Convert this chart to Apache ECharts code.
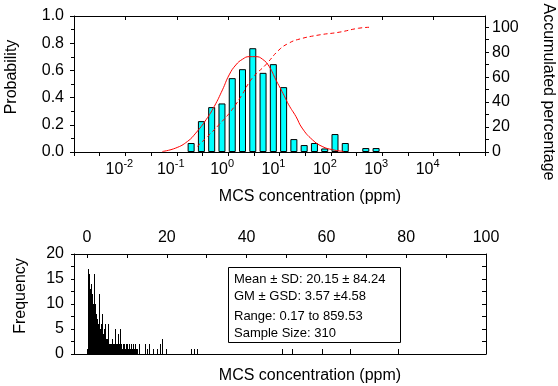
<!DOCTYPE html>
<html>
<head>
<meta charset="utf-8">
<script src="https://cdn.jsdelivr.net/npm/echarts@6/dist/echarts.min.js"></script>
<style>
html,body{margin:0;padding:0;background:#fff;}
#c{width:558px;height:386px;}
</style>
</head>
<body>
<div id="c"></div>
<script>
// ---- Top chart: log-scale probability histogram ----
var binCentersLog = [-0.72,-0.52,-0.32,-0.12,0.08,0.28,0.48,0.68,0.88,1.08,1.28,1.48,1.68,1.88,2.08,2.28,2.68,2.88];
var probabilities = [0.066,0.227,0.330,0.357,0.543,0.609,0.763,0.582,0.646,0.477,0.095,0.051,0.066,0.026,0.132,0.066,0.029,0.029];
// fitted lognormal curve
var fitLogX = [-1.28,-1.02,-0.79,-0.63,-0.43,-0.27,-0.11,0.02,0.15,0.28,0.41,0.54,0.67,0.80,0.93,1.05,1.18,1.32,1.44,1.64,1.83,2.03,2.25];
var fitProb = [0.004,0.029,0.078,0.139,0.237,0.335,0.457,0.567,0.640,0.682,0.701,0.701,0.682,0.628,0.530,0.445,0.347,0.261,0.176,0.090,0.041,0.017,0.004];
// accumulated percentage
var cumLogX = [-0.60,-0.40,-0.18,0.05,0.25,0.47,0.73,0.99,1.18,1.38,1.77,2.16,2.54,2.77];
var cumPct = [4.5,12.5,21.8,32.5,44.5,59.2,69.8,81.8,87.2,90.4,93.8,96.0,99.2,100];
var decadeLabels = [-2,-1,0,1,2,3,4];
var rightTickLabels = [0,20,40,60,80,100];

// ---- Bottom chart: linear frequency histogram ----
var concValues = [0.0,0.25,0.5,0.75,1.0,1.25,1.5,1.75,2.0,2.25,2.5,2.75,3.0,3.25,3.5,3.75,4.0,4.25,4.5,4.75,5.0,5.25,5.5,5.75,6.0,6.25,6.5,6.75,7.0,7.25,7.5,7.75,8.0,8.25,8.5,8.75,9.0,9.25,9.5,9.75,10,10.25,10.5,10.75,11,11.25,11.5,11.75,12,12.25,12.5,13,14.5,15,15.5,16.5,17.5,18.25,18.75,19.75,26,26.75,27.5,49,51.5,59,66,78];
var frequencies = [1,17,16,13,14,12,10,16,10,8,7,6,12,5,6,8,4,5,6,3,3,6,2,2,2,3,2,2,5,2,2,4,2,5,2,1,2,2,1,2,2,1,2,1,2,1,2,1,2,1,1,2,2,1,2,1,1,2,3,1,1,1,1,1,1,1,1,1];
var topTickLabels = [0,20,40,60,80,100];

var statLines = ['Mean \u00B1 SD: 20.15 \u00B1 84.24','GM \u00B1 GSD: 3.57 \u00B14.58','Range: 0.17 to 859.53','Sample Size: 310'];

var FONT = 'Liberation Sans, Arial, sans-serif';
var black = '#000';
var chart = echarts.init(document.getElementById('c'));

function axisBase(extra){
  var o = {
    axisLine:{show:true,onZero:false,lineStyle:{color:black,width:1}},
    splitLine:{show:false},
    axisLabel:{color:black,fontFamily:FONT,fontSize:16},
    axisTick:{lineStyle:{color:black}}
  };
  for (var k in extra){
    if (typeof extra[k]==='object' && o[k] && !Array.isArray(extra[k])) { for (var j in extra[k]) o[k][j]=extra[k][j]; }
    else o[k]=extra[k];
  }
  return o;
}

var option = {
  animation:false,
  backgroundColor:'#fff',
  grid:[
    {left:74,right:73,top:16,bottom:234},
    {left:74,right:72,top:254,bottom:32}
  ],
  xAxis:[
    axisBase({gridIndex:0,type:'value',position:'bottom',min:-3,max:5,interval:0.5,
      axisTick:{show:true,inside:false,length:4},
      axisLabel:{customValues:decadeLabels,margin:6,
        formatter:function(v){return '{b|10}{e|'+Math.round(v)+'}';},
        rich:{b:{fontSize:16,fontFamily:FONT,color:black,lineHeight:24},
              e:{fontSize:11,fontFamily:FONT,color:black,verticalAlign:'top',padding:[0,12,0,0]}}}}),
    axisBase({gridIndex:0,type:'value',position:'top',min:-3,max:5,interval:1,
      axisTick:{show:true,inside:true,length:4},axisLabel:{show:false}}),
    axisBase({gridIndex:1,type:'value',position:'top',min:-3.25,max:100,
      axisTick:{show:true,inside:true,length:4,customValues:[0,10,20,30,40,50,60,70,80,90,100]},
      axisLabel:{customValues:topTickLabels,margin:8}}),
    axisBase({gridIndex:1,type:'value',position:'bottom',min:-3.25,max:100,
      axisTick:{show:false},axisLabel:{show:false}})
  ],
  yAxis:[
    axisBase({gridIndex:0,type:'value',position:'left',min:0,max:1,interval:0.2,
      axisTick:{show:true,inside:false,length:4},
      minorTick:{show:true,splitNumber:2,length:3,lineStyle:{color:black}},
      axisLabel:{margin:10,formatter:function(v){return v.toFixed(1);}}}),
    axisBase({gridIndex:0,type:'value',position:'right',min:0,max:109,
      axisTick:{show:true,inside:false,length:4,customValues:[0,10,20,30,40,50,60,70,80,90,100]},
      axisLabel:{customValues:rightTickLabels,margin:7}}),
    axisBase({gridIndex:1,type:'value',position:'left',min:0,max:20,interval:5,
      axisTick:{show:true,inside:false,length:3},
      minorTick:{show:true,splitNumber:2,length:3,lineStyle:{color:black}},
      axisLabel:{margin:10}}),
    axisBase({gridIndex:1,type:'value',position:'right',min:0,max:20,interval:2.5,
      axisTick:{show:true,inside:true,length:4},axisLabel:{show:false}})
  ],
  series:[
    {type:'bar',xAxisIndex:0,yAxisIndex:0,barWidth:7,
      data:binCentersLog.map(function(c,i){return [c,probabilities[i]];}),
      itemStyle:{color:'#00FFFF',borderColor:black,borderWidth:1}},
    {type:'line',xAxisIndex:0,yAxisIndex:0,smooth:true,symbol:'none',
      data:fitLogX.map(function(x,i){return [x,fitProb[i]];}),
      lineStyle:{color:'#FF0000',width:1}},
    {type:'line',xAxisIndex:0,yAxisIndex:1,smooth:true,symbol:'none',
      data:cumLogX.map(function(x,i){return [x,cumPct[i]];}),
      lineStyle:{color:'#FF0000',width:1,type:[4,3]}},
    {type:'custom',xAxisIndex:2,yAxisIndex:2,
      data:concValues.map(function(v,i){return [v,frequencies[i]];}),
      renderItem:function(params,api){
        var p0=api.coord([api.value(0),0]);
        var p1=api.coord([api.value(0),api.value(1)]);
        return {type:'rect',shape:{x:Math.round(p0[0]),y:p1[1],width:1,height:p0[1]-p1[1]},style:{fill:black}};
      }}
  ],
  graphic:[
    {type:'text',x:12,y:77,rotation:Math.PI/2,style:{text:'Probability',font:'16px '+FONT,fill:black,align:'center',verticalAlign:'middle'}},
    {type:'text',x:548,y:92,rotation:-Math.PI/2,style:{text:'Accumulated percentage',font:'16px '+FONT,fill:black,align:'center',verticalAlign:'middle'}},
    {type:'text',x:310,y:197,style:{text:'MCS concentration (ppm)',font:'16px '+FONT,fill:black,align:'center',verticalAlign:'middle'}},
    {type:'text',x:21,y:296,rotation:Math.PI/2,style:{text:'Frequency',font:'16px '+FONT,fill:black,align:'center',verticalAlign:'middle'}},
    {type:'text',x:310,y:376,style:{text:'MCS concentration (ppm)',font:'16px '+FONT,fill:black,align:'center',verticalAlign:'middle'}},
    {type:'rect',shape:{x:228.5,y:267.5,width:172,height:75},style:{fill:'#fff',stroke:black,lineWidth:1}},
    {type:'text',x:234,y:279,style:{text:statLines[0],font:'13px '+FONT,fill:black,verticalAlign:'middle'}},
    {type:'text',x:234,y:296,style:{text:statLines[1],font:'13px '+FONT,fill:black,verticalAlign:'middle'}},
    {type:'text',x:234,y:316,style:{text:statLines[2],font:'13px '+FONT,fill:black,verticalAlign:'middle'}},
    {type:'text',x:234,y:333,style:{text:statLines[3],font:'13px '+FONT,fill:black,verticalAlign:'middle'}}
  ]
};
chart.setOption(option);
</script>
</body>
</html>
